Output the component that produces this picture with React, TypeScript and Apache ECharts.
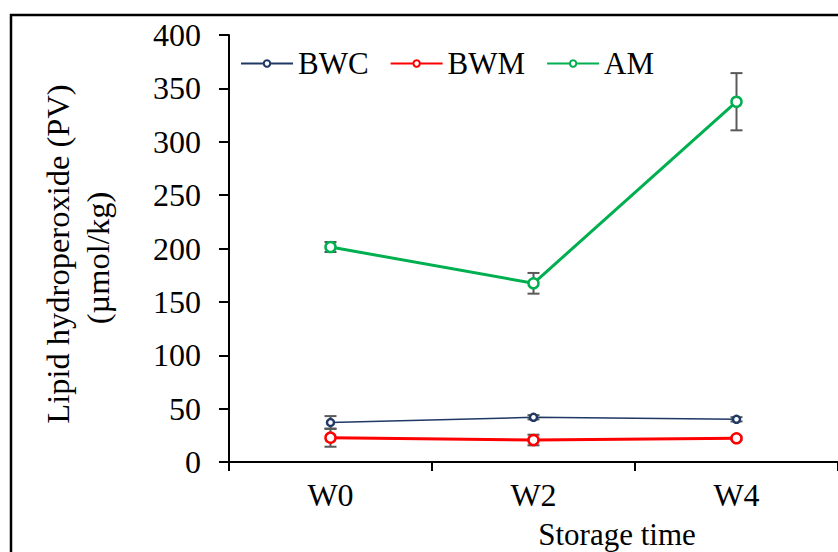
import React, { useEffect, useRef } from "react";
import * as echarts from "echarts";

const categories = ["W0", "W2", "W4"];
const seriesNames = ["BWC", "BWM", "AM"];
const bwcValues = [37, 41.9, 40];
const bwcErrors = [6, 2, 2];
const bwmValues = [22.8, 20.6, 22.2];
const bwmErrors = [8.5, 5, 1.5];
const amValues = [201.4, 167.4, 337.5];
const amErrors = [4.7, 9.7, 26.8];
const yTicks = { min: 0, max: 400, interval: 50 };

const FONT = "'Liberation Serif', 'Times New Roman', serif";
const colors = ["#1F3864", "#FF0000", "#00B050"];

function errorSeries(values: number[], errs: number[], name: string) {
  return {
    type: "custom",
    name: name + "_err",
    z: 1,
    silent: true,
    data: values.map((v, i) => [i, v - errs[i], v + errs[i]]),
    renderItem: (params: any, api: any) => {
      const x = api.value(0);
      const lo = api.coord([x, api.value(1)]);
      const hi = api.coord([x, api.value(2)]);
      const hw = 6;
      const style = { stroke: "#595959", lineWidth: 2 };
      return {
        type: "group",
        children: [
          { type: "line", shape: { x1: lo[0], y1: lo[1], x2: hi[0], y2: hi[1] }, style },
          { type: "line", shape: { x1: lo[0] - hw, y1: lo[1], x2: lo[0] + hw, y2: lo[1] }, style },
          { type: "line", shape: { x1: hi[0] - hw, y1: hi[1], x2: hi[0] + hw, y2: hi[1] }, style },
        ],
      };
    },
  };
}

export default function App() {
  const ref = useRef<HTMLDivElement>(null);
  useEffect(() => {
    if (!ref.current) return;
    const chart = echarts.init(ref.current, null, { renderer: "svg" });
    const lineData = [bwcValues, bwmValues, amValues];
    const widths = [1.5, 3, 3];
    const sizes = [7, 10, 10];
    chart.setOption({
      animation: false,
      backgroundColor: "#fff",
      grid: { left: 229, right: -3, top: 35, bottom: 90 },
      legend: {
        left: 240,
        top: 48,
        padding: 0,
        itemWidth: 52,
        itemHeight: 8,
        itemGap: 21,
        data: seriesNames,
        textStyle: { fontFamily: FONT, fontSize: 31, color: "#000" },
      },
      xAxis: {
        type: "category",
        data: categories,
        boundaryGap: true,
        axisLine: { lineStyle: { color: "#000", width: 2 } },
        axisTick: { show: true, length: 9, lineStyle: { color: "#000", width: 2 } },
        axisLabel: { fontFamily: FONT, fontSize: 32, color: "#000", margin: 17 },
      },
      yAxis: {
        type: "value",
        min: yTicks.min,
        max: yTicks.max,
        interval: yTicks.interval,
        splitLine: { show: false },
        axisLine: { show: true, lineStyle: { color: "#000", width: 2 } },
        axisTick: { show: true, length: 10, lineStyle: { color: "#000", width: 2 } },
        axisLabel: { fontFamily: FONT, fontSize: 32, color: "#000", margin: 28 },
      },
      graphic: [
        {
          type: "rect",
          shape: { x: 11, y: 15, width: 900, height: 600 },
          style: { fill: "none", stroke: "#000", lineWidth: 2.5 },
          silent: true,
        },
        {
          type: "text",
          x: 58,
          y: 254,
          rotation: Math.PI / 2,
          style: {
            text: "Lipid hydroperoxide (PV)",
            fontFamily: FONT,
            fontSize: 32.5,
            fill: "#000",
            textAlign: "center",
            textVerticalAlign: "middle",
          },
        },
        {
          type: "text",
          x: 98,
          y: 258,
          rotation: Math.PI / 2,
          style: {
            text: "(µmol/kg)",
            fontFamily: FONT,
            fontSize: 32.5,
            fill: "#000",
            textAlign: "center",
            textVerticalAlign: "middle",
          },
        },
        {
          type: "text",
          x: 617,
          y: 534,
          style: {
            text: "Storage time",
            fontFamily: FONT,
            fontSize: 31,
            fill: "#000",
            textAlign: "center",
            textVerticalAlign: "middle",
          },
        },
      ],
      series: [
        errorSeries(bwcValues, bwcErrors, "BWC"),
        errorSeries(bwmValues, bwmErrors, "BWM"),
        errorSeries(amValues, amErrors, "AM"),
        ...seriesNames.map((n, i) => ({
          type: "line",
          name: n,
          z: 3,
          data: lineData[i],
          symbol: "circle",
          symbolSize: sizes[i],
          itemStyle: { color: "#fff", borderColor: colors[i], borderWidth: 2.5 },
          lineStyle: { color: colors[i], width: widths[i] },
          color: colors[i],
        })),
      ],
    });
    return () => chart.dispose();
  }, []);
  return <div ref={ref} style={{ width: 838, height: 552, position: "absolute", left: 0, top: 0 }} />;
}
